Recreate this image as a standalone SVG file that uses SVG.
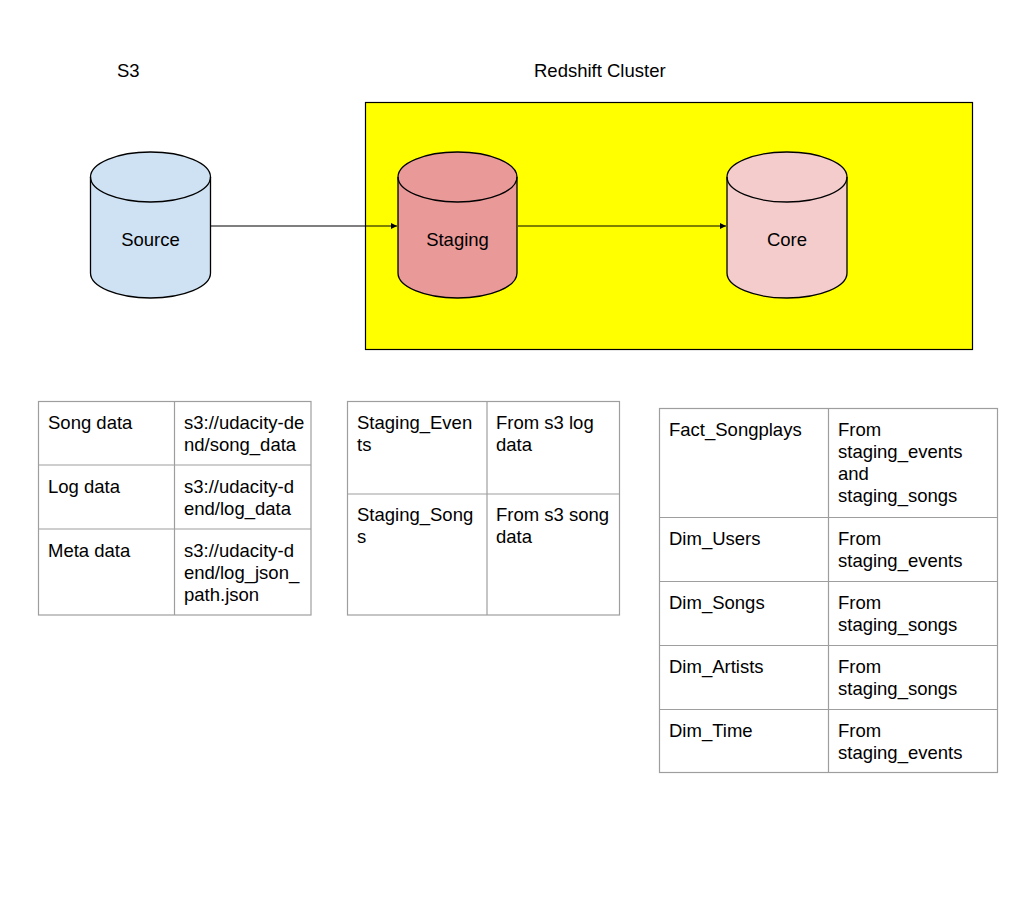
<svg xmlns="http://www.w3.org/2000/svg" width="1022" height="903" viewBox="0 0 1022 903">
<defs>
<style>
text{font-family:"Liberation Sans",Arial,sans-serif;font-size:18.5px;fill:#000}
.c{text-anchor:middle}
.cyl{stroke:#000;stroke-width:1.3}
.grid{fill:none;stroke:#9e9e9e;stroke-width:1.2}
.edge{stroke:#000;stroke-width:1.2;fill:none}
</style>
<marker id="ah" markerWidth="8" markerHeight="8" refX="6" refY="3" orient="auto" markerUnits="userSpaceOnUse">
<path d="M0,0 L6,3 L0,6 z" fill="#000"/>
</marker>
</defs>
<rect width="1022" height="903" fill="#fff"/>
<text x="117" y="77">S3</text>
<text x="534" y="77">Redshift Cluster</text>
<g id="cluster"><rect x="365.5" y="102.5" width="607" height="247" fill="#ffff00" stroke="#000" stroke-width="1.2"/></g>
<g id="connectors">
<line class="edge" x1="211" y1="226" x2="397" y2="226" marker-end="url(#ah)"/>
<line class="edge" x1="518" y1="226" x2="726" y2="226" marker-end="url(#ah)"/>
</g>
<g id="source">
<path class="cyl" fill="#cfe2f3" d="M90.5,177 A60,25 0 0 1 210.5,177 L210.5,273 A60,25 0 0 1 90.5,273 Z"/>
<path class="cyl" fill="none" d="M90.5,177 A60,25 0 0 0 210.5,177"/>
<text class="c" x="150.5" y="245.5">Source</text>
</g>
<g id="staging">
<path class="cyl" fill="#ea9999" d="M398,177 A59.5,25 0 0 1 517,177 L517,273 A59.5,25 0 0 1 398,273 Z"/>
<path class="cyl" fill="none" d="M398,177 A59.5,25 0 0 0 517,177"/>
<text class="c" x="457.5" y="245.5">Staging</text>
</g>
<g id="core">
<path class="cyl" fill="#f4cccc" d="M727,177 A60,25 0 0 1 847,177 L847,273 A60,25 0 0 1 727,273 Z"/>
<path class="cyl" fill="none" d="M727,177 A60,25 0 0 0 847,177"/>
<text class="c" x="787" y="245.5">Core</text>
</g>
<g id="table-s3">
<rect class="grid" x="38.5" y="401.5" width="272.5" height="213.5"/>
<line class="grid" x1="174.5" y1="401.5" x2="174.5" y2="615"/>
<line class="grid" x1="38.5" y1="465" x2="311" y2="465"/>
<line class="grid" x1="38.5" y1="529" x2="311" y2="529"/>
<text x="48" y="429">Song data</text>
<text x="184" y="429">s3://udacity-de</text>
<text x="184" y="451">nd/song_data</text>
<text x="48" y="493">Log data</text>
<text x="184" y="493">s3://udacity-d</text>
<text x="184" y="515">end/log_data</text>
<text x="48" y="557">Meta data</text>
<text x="184" y="557">s3://udacity-d</text>
<text x="184" y="579">end/log_json_</text>
<text x="184" y="601">path.json</text>
</g>
<g id="table-staging">
<rect class="grid" x="347.5" y="401.5" width="272" height="213.5"/>
<line class="grid" x1="487" y1="401.5" x2="487" y2="615"/>
<line class="grid" x1="347.5" y1="494" x2="619.5" y2="494"/>
<text x="357" y="429">Staging_Even</text>
<text x="357" y="451">ts</text>
<text x="496" y="429">From s3 log</text>
<text x="496" y="451">data</text>
<text x="357" y="521">Staging_Song</text>
<text x="357" y="543">s</text>
<text x="496" y="521">From s3 song</text>
<text x="496" y="543">data</text>
</g>
<g id="table-core">
<rect class="grid" x="659.5" y="408.5" width="338" height="364"/>
<line class="grid" x1="828.5" y1="408.5" x2="828.5" y2="772.5"/>
<line class="grid" x1="659.5" y1="517.5" x2="997.5" y2="517.5"/>
<line class="grid" x1="659.5" y1="581.5" x2="997.5" y2="581.5"/>
<line class="grid" x1="659.5" y1="645.5" x2="997.5" y2="645.5"/>
<line class="grid" x1="659.5" y1="709.5" x2="997.5" y2="709.5"/>
<text x="669" y="436">Fact_Songplays</text>
<text x="838" y="436">From</text>
<text x="838" y="458">staging_events</text>
<text x="838" y="480">and</text>
<text x="838" y="502">staging_songs</text>
<text x="669" y="545">Dim_Users</text>
<text x="838" y="545">From</text>
<text x="838" y="567">staging_events</text>
<text x="669" y="609">Dim_Songs</text>
<text x="838" y="609">From</text>
<text x="838" y="631">staging_songs</text>
<text x="669" y="673">Dim_Artists</text>
<text x="838" y="673">From</text>
<text x="838" y="695">staging_songs</text>
<text x="669" y="737">Dim_Time</text>
<text x="838" y="737">From</text>
<text x="838" y="759">staging_events</text>
</g>
</svg>
